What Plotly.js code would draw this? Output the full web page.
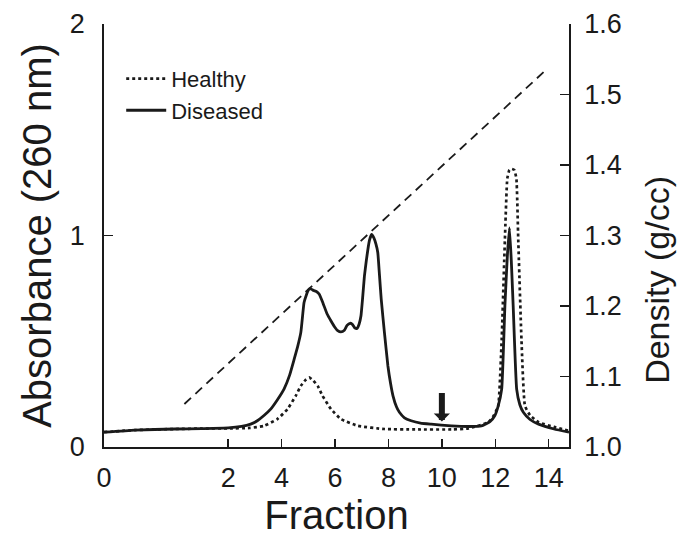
<!DOCTYPE html>
<html><head><meta charset="utf-8">
<script src="https://cdn.plot.ly/plotly-3.0.1.min.js"></script>
<style>html,body{margin:0;padding:0;background:#fff}#chart{width:682px;height:537px}</style>
</head><body><div id="chart"></div>
<script>
// x axis: the "0" label sits at the left end of the (compressed) axis
const xStart = -2.65, xEnd = 14.76;
const fractionTicks = [xStart, 2, 4, 6, 8, 10, 12, 14];
const fractionTickText = ["0", "2", "4", "6", "8", "10", "12", "14"];
const absTicks = [0, 1, 2];
const densityTicks = [1.0, 1.1, 1.2, 1.3, 1.4, 1.5, 1.6];

// Healthy (dotted)
const healthyX = [xStart, -1.5, 0, 1, 2, 2.8, 3.34, 3.84, 4.22, 4.53, 4.72, 4.88, 5.03, 5.18, 5.35, 5.53, 5.85, 6.22, 6.85, 7.85, 9.0, 10.36, 11.0, 11.74, 11.95, 12.11, 12.24, 12.36, 12.45, 12.53, 12.62, 12.71, 12.79, 12.86, 12.98, 13.11, 13.3, 13.62, 14.2, xEnd];
const healthyY = [0.07, 0.08, 0.085, 0.087, 0.088, 0.09, 0.10, 0.132, 0.179, 0.242, 0.289, 0.315, 0.329, 0.315, 0.289, 0.242, 0.179, 0.132, 0.10, 0.085, 0.083, 0.083, 0.088, 0.117, 0.15, 0.195, 0.509, 0.981, 1.27, 1.31, 1.315, 1.31, 1.27, 0.981, 0.509, 0.195, 0.15, 0.117, 0.095, 0.077];

// Diseased (solid)
const diseasedX = [xStart, -1.5, 0, 1, 2, 2.5, 2.84, 3.09, 3.35, 3.59, 3.85, 4.09, 4.3, 4.47, 4.6, 4.72, 4.84, 4.93, 5.0, 5.07, 5.2, 5.3, 5.41, 5.55, 5.7, 5.85, 6.0, 6.1, 6.22, 6.35, 6.45, 6.56, 6.65, 6.75, 6.82, 6.9, 6.97, 7.03, 7.1, 7.17, 7.23, 7.29, 7.37, 7.45, 7.53, 7.6, 7.66, 7.73, 7.85, 7.98, 8.08, 8.17, 8.3, 8.41, 8.6, 8.85, 9.2, 9.6, 10.36, 11.0, 11.48, 11.8, 11.98, 12.1, 12.24, 12.36, 12.45, 12.53, 12.6, 12.67, 12.8, 12.92, 13.05, 13.3, 13.62, 14.2, xEnd];
const diseasedY = [0.07, 0.08, 0.085, 0.087, 0.09, 0.097, 0.108, 0.124, 0.15, 0.179, 0.225, 0.274, 0.34, 0.415, 0.475, 0.542, 0.683, 0.72, 0.742, 0.749, 0.74, 0.735, 0.722, 0.68, 0.63, 0.596, 0.565, 0.55, 0.544, 0.552, 0.575, 0.585, 0.58, 0.562, 0.56, 0.58, 0.619, 0.7, 0.808, 0.88, 0.934, 0.978, 1.005, 0.99, 0.96, 0.92, 0.82, 0.698, 0.541, 0.383, 0.30, 0.242, 0.19, 0.164, 0.138, 0.124, 0.113, 0.108, 0.10, 0.097, 0.10, 0.12, 0.148, 0.19, 0.274, 0.667, 0.9, 1.036, 0.88, 0.667, 0.274, 0.2, 0.164, 0.13, 0.108, 0.085, 0.07];

// Density gradient (dashed, right axis)
const densityX = [0.36, 13.93];
const densityY = [1.061, 1.536];

// Marker arrow
const arrowFraction = 10, arrowAbs = 0.12;

const ink = "#1a1a1a";
const fam = "Liberation Sans, Arial, Helvetica, sans-serif";

const traces = [
  {x: healthyX, y: healthyY, name: "Healthy", type: "scatter", mode: "lines",
   line: {color: ink, width: 2.7, dash: "dot", shape: "spline", smoothing: 0.4}},
  {x: diseasedX, y: diseasedY, name: "Diseased", type: "scatter", mode: "lines",
   line: {color: ink, width: 2.8, shape: "spline", smoothing: 0.4}},
  {x: densityX, y: densityY, name: "Density", yaxis: "y2", type: "scatter", mode: "lines",
   showlegend: false, line: {color: ink, width: 1.8, dash: "9px,6px"}}
];

const layout = {
  width: 682, height: 537,
  margin: {l: 104, r: 113, t: 24, b: 90},
  paper_bgcolor: "#fff", plot_bgcolor: "#fff",
  font: {family: fam, color: ink},
  showlegend: true,
  legend: {x: 0.037, y: 0.92, xanchor: "left", yanchor: "top", bgcolor: "rgba(0,0,0,0)",
           font: {size: 22, family: fam, color: ink}, itemwidth: 40},
  xaxis: {range: [xStart, xEnd], tickvals: fractionTicks, ticktext: fractionTickText,
          ticks: "inside", ticklen: 8, tickwidth: 1.5, tickcolor: ink,
          showline: true, linecolor: ink, linewidth: 1.8, showgrid: false, zeroline: false,
          tickfont: {size: 27, family: fam, color: ink}, ticklabelstandoff: 6,
          title: {text: "Fraction", font: {size: 40, family: fam, color: ink}, standoff: 14}},
  yaxis: {range: [0, 2], tickvals: absTicks, ticks: "inside", ticklen: 9, tickwidth: 1.5, tickcolor: ink,
          showline: true, linecolor: ink, linewidth: 1.8, showgrid: false, zeroline: false,
          tickfont: {size: 27, family: fam, color: ink}, ticklabelstandoff: 12,
          title: {text: "Absorbance (260 nm)", font: {size: 40, family: fam, color: ink}, standoff: 6}},
  yaxis2: {range: [1.0, 1.6], tickvals: densityTicks, tickformat: ".1f", overlaying: "y", side: "right",
           ticks: "inside", ticklen: 9, tickwidth: 1.5, tickcolor: ink,
           showline: true, linecolor: ink, linewidth: 1.8, showgrid: false, zeroline: false,
           tickfont: {size: 27, family: fam, color: ink}, ticklabelstandoff: 8},
  annotations: [
    {x: arrowFraction, y: arrowAbs, xref: "x", yref: "y", text: "", showarrow: true,
     ax: 0, ay: -30, arrowhead: 1, arrowwidth: 6, arrowsize: 0.45, arrowcolor: ink, standoff: 0},
    {x: 1.19, y: 0.396, xref: "paper", yref: "paper", text: "Density (g/cc)", showarrow: false,
     textangle: -90, font: {size: 34, family: fam, color: ink}, xanchor: "center", yanchor: "middle"}
  ]
};

Plotly.newPlot("chart", traces, layout, {displayModeBar: false, staticPlot: true});
</script>
</body></html>
